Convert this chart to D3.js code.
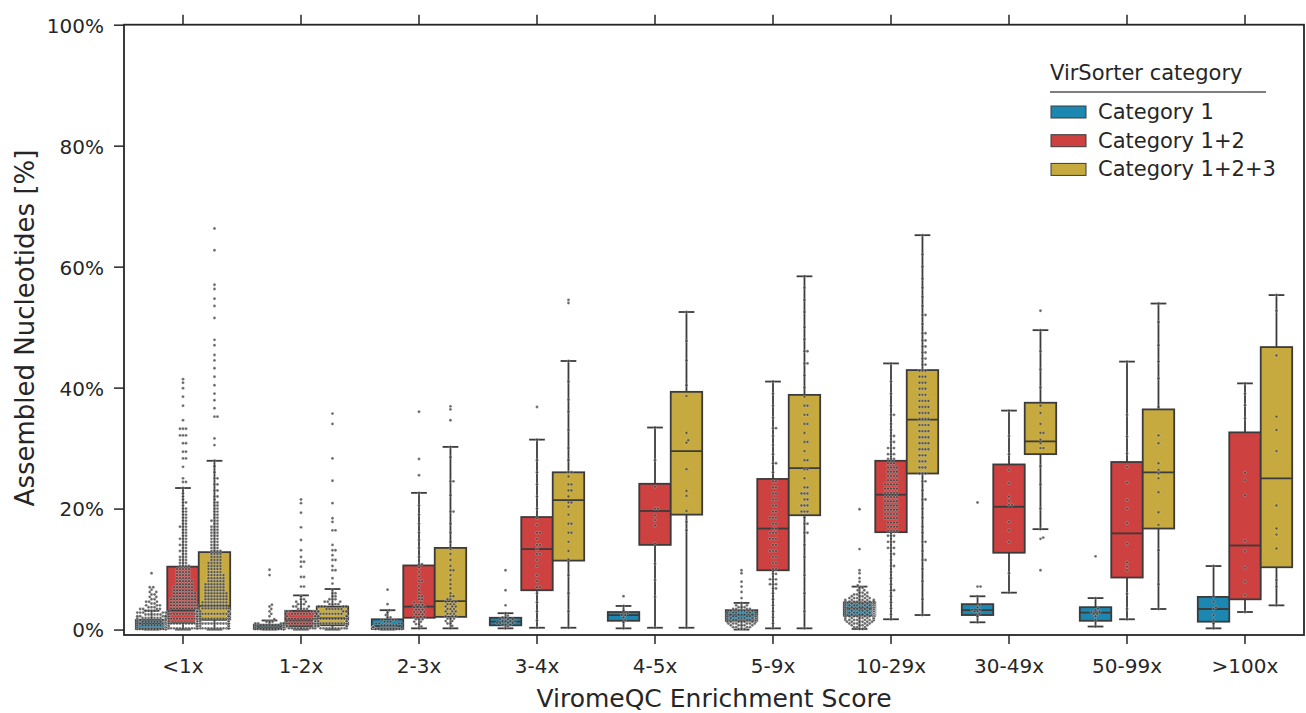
<!DOCTYPE html>
<html><head><meta charset="utf-8">
<script src="https://cdn.jsdelivr.net/npm/d3@7"></script>
<style>body{margin:0;background:#fff;} svg{display:block;font-family:"DejaVu Sans",sans-serif;}</style>
</head><body><svg id="c" width="1306" height="713"></svg>
<script>
const categories = ["<1x","1-2x","2-3x","3-4x","4-5x","5-9x","10-29x","30-49x","50-99x",">100x"];
const seriesNames = ["Category 1","Category 1+2","Category 1+2+3"];
const seriesColors = ["#1c88b2","#ce4141","#c6aa40"];
const yTicks = [0,20,40,60,80,100];

// box stats per category: [low whisker, q1, median, q3, high whisker] in %
const cat1Box = [[0,0.1,1.0,1.6,3.1],[0,0.1,0.4,0.8,1.5],[0,0.1,0.6,1.7,3.2],[0.2,0.7,1.3,1.95,2.7],[0.2,1.45,2.4,2.9,3.9],
  [0,1.45,2.4,3.2,4.4],[0.1,2.3,3.5,4.5,7.1],[1.2,2.4,3.2,4.2,5.5],[0.5,1.45,2.8,3.7,5.2],[0.2,1.3,3.4,5.4,10.5]];
const cat12Box = [[0,1.1,3.2,10.4,23.4],[0,0.5,1.6,3.1,5.65],[0.2,1.95,3.8,10.6,22.6],[0.3,6.5,13.3,18.6,31.4],[0.3,14.0,19.6,24.1,33.4],
  [0.2,9.8,16.7,24.9,41.0],[1.7,16.1,22.3,27.9,44.0],[6.1,12.7,20.3,27.3,36.2],[1.7,8.6,15.9,27.7,44.3],[2.9,5.0,13.9,32.6,40.7]];
const cat123Box = [[0,1.6,3.9,12.8,27.9],[0,0.7,1.9,3.8,6.7],[0.2,2.1,4.7,13.5,30.2],[0.3,11.4,21.4,26.0,44.4],[0.3,19.0,29.5,39.3,52.5],
  [0.2,18.9,26.7,38.8,58.4],[2.4,25.8,34.7,42.9,65.2],[16.6,29.0,31.1,37.5,49.5],[3.4,16.7,26.0,36.4,53.9],[4.0,10.3,25.0,46.7,55.3]];

// individual samples (%); a number = one sample, [value, n] = n samples at about that value
const cat1Points = [
  [[0.1,14],[0.4,14],[0.7,14],[1.0,13],[1.3,12],[1.6,11],[1.9,9],[2.2,8],[2.5,6],[2.8,5],[3.1,4],[3.4,4],[3.7,3],[4.0,3],[4.3,2],[4.6,3],[5.0,2],[5.4,2],[5.8,2],[6.2,2],6.6,[7.0,2],9.3],
  [[0.1,14],[0.4,14],[0.7,10],[1.0,5],[1.3,3],1.7,2.2,2.6,3.0,3.4,3.8,4.1,9.0,9.9],
  [[0.1,10],[0.4,8],[0.7,6],[1.0,4],[1.3,3],[1.6,3],[2.0,2],2.4,2.8,3.2,4.2,6.6],
  [0.2,0.5,[0.8,3],[1.1,4],[1.4,4],[1.7,3],[2.0,2],2.3,2.7,4.0,6.5,9.8],
  [0.2,1.2,1.6,2.0,[2.4,2],2.7,3.1,3.9,5.5],
  [[0.1,3],[0.4,4],[0.7,5],[1.0,6],[1.3,7],[1.6,8],[1.9,8],[2.2,8],[2.5,7],[2.8,6],[3.1,5],[3.4,4],[3.7,3],[4.0,2],4.4,5.2,6.2,7.1,7.9,9.3,9.8],
  [[0.1,2],[0.4,3],[0.7,4],[1.0,5],[1.3,6],[1.6,8],[1.9,10],[2.2,12],[2.5,13],[2.8,14],[3.1,14],[3.4,14],[3.7,13],[4.0,12],[4.3,10],[4.6,8],[4.9,6],[5.2,5],[5.5,4],[5.8,3],[6.1,3],[6.5,2],[6.9,2],7.3,7.9,8.5,9.3,9.8,13.3,19.9],
  [1.2,2.2,2.6,[3.0,2],[3.3,2],3.7,4.1,5.5,[7.1,2],21.0],
  [0.5,1.6,2.2,[2.6,2],[2.9,2],3.2,3.5,5.2,12.1],
  [0.2,1.0,1.6,2.4,3.4,3.7,4.6,5.5,10.5]
];
const cat12Points = [
  [[0.2,16],[0.6,16],[1.0,15],[1.4,14],[1.8,13],[2.2,12],[2.6,12],[3.0,11],[3.5,10],[4.0,10],[4.5,9],[5.0,9],[5.5,8],[6.0,8],[6.5,7],[7.0,7],[7.5,6],[8.0,6],[8.5,5],[9.0,5],[9.5,5],[10.0,5],[10.5,4],[11.0,3],[11.5,3],[12,3],[12.5,2],[13,3],[13.5,2],[14,3],[14.5,2],[15,3],[15.5,2],[16,2],[16.5,2],[17,3],[17.5,2],[18,2],[18.5,2],[19,2],[19.5,2],[20,2],[20.5,1],[21,2],[21.5,1],[22,1],[22.5,1],23.4,[24.4,2],25.0,26.9,[28.3,2],[29.4,2],[30.8,2],[32.1,3],[33.2,3],34.6,37.0,38.5,39.9,40.8,41.4],
  [[0.2,10],[0.6,12],[1.0,12],[1.4,11],[1.8,10],[2.2,9],[2.6,7],[3.0,6],[3.4,4],[3.8,3],[4.2,3],[4.6,2],[5.0,2],5.5,[7.1,2],[8.7,2],10.4,[11.2,2],12.0,13.1,14.8,16.9,19.3,20.9,21.5],
  [0.2,0.5,[0.9,2],[1.3,2],[1.7,3],[2.1,3],[2.5,3],[2.9,3],[3.3,3],[3.7,3],[4.1,3],[4.5,2],[5.0,2],[5.5,2],6.0,6.5,7.2,[8.0,2],8.8,9.5,10.3,[10.8,2],12.0,13.5,14.8,16.0,17.5,19.0,20.5,22.6,25.5,28.2,36.0],
  [0.3,1.5,3.0,4.5,6.0,[7.0,2],8.0,9.0,10.5,11.5,[12.5,2],13.3,[14.0,2],15.0,[16.0,2],17.3,18.4,20.0,22.0,24.0,26.0,28.0,31.4,36.8],
  [0.3,5.4,8.2,10.9,14.2,17.2,18.1,18.9,[20.0,2],23.6,28.0,33.4],
  [0.2,1.0,2.0,3.0,4.0,5.0,6.0,[6.8,2],[7.5,3],[8.3,3],[9.2,2],[10,2],[11,2],[12,2],[13,3],[14,2],[15,3],[16,3],[16.7,2],[17.5,2],[18.5,3],[19.5,2],[20.5,2],[21.5,2],[22.5,2],[23.5,2],[24.5,2],26.0,[27.5,2],29.0,30.5,32.0,[33.3,2],35.0,37.0,39.0,41.0],
  [1.7,2.5,3.5,4.5,5.5,[6.5,2],7.5,8.5,9.5,[10.5,2],11.5,[12.5,2],[13.5,3],[14.5,3],[15.5,3],[16.3,4],[17,4],[17.7,4],[18.4,5],[19.1,5],[19.8,5],[20.5,5],[21.2,5],[21.9,5],[22.6,5],[23.3,5],[24,5],[24.7,4],[25.4,4],[26.1,4],[26.8,4],[27.5,3],[28.2,3],[29,3],[30,3],[31,2],[32,2],33.0,34.0,[35.5,2],37.0,39.0,41.0,44.0],
  [6.1,9.3,14.5,16.4,17.8,[20.6,2],21.3,22.0,24.2,26.4,29.0,32.0,36.2],
  [1.7,3.4,5.9,9.8,10.4,11.1,14.2,17.6,20.0,21.4,24.3,26.9,29.1,31.9,35.5,44.3],
  [2.9,5.7,7.9,10.2,13.0,14.7,22.2,24.7,25.9,34.9,37.1,39.0,40.7]
];
const cat123Points = [
  [[0.2,16],[0.6,16],[1.0,15],[1.4,14],[1.8,13],[2.2,12],[2.6,11],[3.0,11],[3.5,10],[4.0,9],[4.5,9],[5.0,8],[5.5,8],[6.0,8],[6.5,7],[7.0,7],[7.5,7],[8.0,6],[8.5,6],[9.0,6],[9.5,5],[10,5],[10.5,5],[11,5],[11.5,4],[12,4],[12.5,4],[13,4],[13.5,3],[14,3],[14.5,3],[15,3],[15.5,3],[16,3],[16.5,3],[17,3],[17.5,2],[18,3],[18.5,2],[19,2],[19.5,2],[20,2],[20.5,2],[21,2],[21.5,1],[22,2],[23,2],[24,2],[25,2],26.0,27.0,27.9,30.5,31.6,[35.2,2],36.6,37.9,39.0,40.4,41.8,43.2,44.5,45.4,47.0,47.9,51.5,53.5,54.7,56.3,57.0,62.7,66.3],
  [[0.2,10],[0.6,12],[1.0,12],[1.4,11],[1.8,10],[2.2,9],[2.6,8],[3.0,7],[3.4,6],[3.8,5],[4.2,4],[4.6,3],[5.0,3],[5.5,2],[6.0,2],6.6,7.6,8.5,[9.8,2],10.5,[11.5,2],12.3,[13.1,2],14.0,[16.4,2],17.8,18.4,20.9,24.6,28.3,34.0,35.7],
  [0.2,0.6,[1.0,2],[1.4,2],[1.8,3],[2.2,3],[2.6,3],[3.0,3],[3.4,3],[3.8,3],[4.2,3],[4.6,3],[5.0,2],[5.5,2],6.0,6.8,7.5,8.2,9.0,[9.8,2],10.5,11.5,12.5,13.3,14.5,16.0,17.5,[19.5,2],22.2,[24.5,2],28.5,30.2,34.6,36.4,36.9],
  [0.3,3.0,6.0,9.0,11.6,13.0,14.5,[16,2],[17.5,2],19.0,20.3,[21,2],22.0,[23,2],[24,2],25.3,[26,2],28.0,30.0,33.0,36.0,38.0,41.0,44.4,54.0,54.5],
  [0.3,16.4,17.8,19.6,22.1,22.9,26.5,30.9,31.3,32.5,38.6,40.4,44.5,47.7,52.5],
  [0.2,3.0,6.0,9.0,12.0,14.0,[16,2],[17.5,2],18.5,[19.5,3],[20.5,3],[21.5,2],[22.5,3],[23.5,2],25.0,[26.5,2],[28,2],29.5,[31,2],32.5,[34,2],[35.5,2],[37,2],38.5,40.0,42.0,[44,2],[46,2],48.0,50.0,52.5,54.5,56.5,58.4],
  [2.4,5.0,8.0,10.0,[11.5,2],13.0,[14.5,2],16.0,17.0,18.5,20.0,[21.5,2],23.0,[24.5,2],[25.8,3],[26.8,3],[27.8,3],[28.8,3],[29.8,4],[30.8,4],[31.8,4],[32.8,4],[33.8,4],[34.8,4],[35.8,4],[36.8,4],[37.8,4],[38.8,3],[39.8,3],[40.8,3],[41.8,3],[42.8,3],[43.8,2],[44.8,2],[45.8,2],[46.8,2],[47.8,2],[49,2],50.5,[52,2],53.5,55.0,56.5,58.0,60.0,62.0,65.2],
  [9.8,15.0,15.2,16.6,20.0,24.0,27.0,[30,2],30.8,31.4,[32.5,2],34.0,35.8,37.0,40.0,43.0,46.0,49.5,52.7],
  [3.4,7.5,13.1,17.3,19.4,22.7,25.0,25.8,26.4,27.5,30.8,32.1,36.8,41.5,44.3,47.0,50.8,53.9],
  [4.0,7.1,8.2,13.4,15.7,16.7,20.5,29.5,33.0,35.2,45.3,52.7,55.3]
];

const boxes = [cat1Box, cat12Box, cat123Box];
const points = [cat1Points, cat12Points, cat123Points];

const svg = d3.select("#c");
const x = d3.scaleBand().domain(categories).range([124, 1304]).padding(0);
const y = d3.scaleLinear().domain([-0.9, 100]).range([635, 24.7]);
const bw = x.bandwidth();
const boxW = bw * 0.8 / 3;
const lineCol = "#3b3b3b";

function expand(list) {
  const out = [];
  list.forEach(e => { if (Array.isArray(e)) { for (let i = 0; i < e[1]; i++) out.push(e[0]); } else out.push(e); });
  return out;
}

function swarm(vals, cx, half, d) {
  const sorted = vals.slice().sort((a, b) => a - b);
  const placed = [];
  for (const v of sorted) {
    const py = y(v);
    const near = placed.filter(p => Math.abs(p.y - py) < d);
    const cands = [0];
    near.forEach(p => { const dx = Math.sqrt(d * d - (p.y - py) ** 2); cands.push(p.x + dx, p.x - dx); });
    cands.sort((a, b) => Math.abs(a) - Math.abs(b));
    let best = null;
    for (const c of cands) {
      if (near.every(p => (p.x - c) ** 2 + (p.y - py) ** 2 >= d * d - 1e-6)) { best = c; break; }
    }
    if (best === null) best = 0;
    best = Math.max(-half, Math.min(half, best));
    placed.push({x: best, y: py});
  }
  return placed.map(p => ({x: cx + p.x, y: p.y}));
}

const plot = svg.append("g");
// boxes
categories.forEach((cat, i) => {
  const xc = x(cat) + bw / 2;
  [0, 1, 2].forEach(s => {
    const [lo, q1, med, q3, hi] = boxes[s][i];
    const cx = xc + (s - 1) * boxW;
    const g = plot.append("g");
    const capW = boxW * 0.5;
    g.append("line").attr("x1", cx).attr("x2", cx).attr("y1", y(q3)).attr("y2", y(hi)).attr("stroke", lineCol).attr("stroke-width", 1.8);
    g.append("line").attr("x1", cx).attr("x2", cx).attr("y1", y(q1)).attr("y2", y(lo)).attr("stroke", lineCol).attr("stroke-width", 1.8);
    g.append("line").attr("x1", cx - capW / 2).attr("x2", cx + capW / 2).attr("y1", y(hi)).attr("y2", y(hi)).attr("stroke", lineCol).attr("stroke-width", 1.8);
    g.append("line").attr("x1", cx - capW / 2).attr("x2", cx + capW / 2).attr("y1", y(lo)).attr("y2", y(lo)).attr("stroke", lineCol).attr("stroke-width", 1.8);
    g.append("rect").attr("x", cx - boxW / 2).attr("y", y(q3)).attr("width", boxW).attr("height", y(q1) - y(q3))
      .attr("fill", seriesColors[s]).attr("stroke", lineCol).attr("stroke-width", 1.8);
    g.append("line").attr("x1", cx - boxW / 2).attr("x2", cx + boxW / 2).attr("y1", y(med)).attr("y2", y(med)).attr("stroke", lineCol).attr("stroke-width", 1.8);
  });
});
// swarm points
categories.forEach((cat, i) => {
  const xc = x(cat) + bw / 2;
  [0, 1, 2].forEach(s => {
    const cx = xc + (s - 1) * boxW;
    const pts = swarm(expand(points[s][i]), cx, boxW / 2 - 1.5, 3.0);
    plot.append("g").selectAll("circle").data(pts).join("circle")
      .attr("cx", d => d.x).attr("cy", d => d.y).attr("r", 1.45)
      .attr("fill", "#404040").attr("fill-opacity", 0.8)
      .attr("stroke", "#fff").attr("stroke-width", 0.35).attr("stroke-opacity", 0.7);
  });
});

// axes
const fontTick = "20px";
const gl = svg.append("g").attr("transform", "translate(124,0)")
  .call(d3.axisLeft(y).tickValues(yTicks).tickFormat(d => d + "%").tickSize(10).tickPadding(10));
const gb = svg.append("g").attr("transform", "translate(0,635)")
  .call(d3.axisBottom(x).tickSize(9).tickPadding(15));
const gt = svg.append("g").attr("transform", "translate(0,24.7)")
  .call(d3.axisTop(x).tickSize(10).tickFormat(""));
[gl, gb, gt].forEach(g => {
  g.select(".domain").remove();
  g.selectAll(".tick line").attr("stroke", "#262626").attr("stroke-width", 1.5);
  g.selectAll(".tick text").attr("fill", "#262626").style("font-size", fontTick).style("font-family", "'DejaVu Sans', sans-serif");
});
gl.selectAll(".tick text").attr("dy", "0.37em");
svg.append("rect").attr("x", 124).attr("y", 24.7).attr("width", 1180).attr("height", 635 - 24.7)
  .attr("fill", "none").attr("stroke", "#262626").attr("stroke-width", 1.8);

// axis labels
svg.append("text").attr("x", 714).attr("y", 707).attr("text-anchor", "middle")
  .style("font-size", "25px").attr("fill", "#262626").text("ViromeQC Enrichment Score");
svg.append("text").attr("transform", "translate(34,328) rotate(-90)").attr("text-anchor", "middle")
  .style("font-size", "26px").attr("fill", "#262626").text("Assembled Nucleotides [%]");

// legend
const lg = svg.append("g");
lg.append("text").attr("x", 1050).attr("y", 80).style("font-size", "21px").attr("fill", "#262626").text("VirSorter category");
lg.append("line").attr("x1", 1050).attr("x2", 1266).attr("y1", 92).attr("y2", 92).attr("stroke", "#555").attr("stroke-width", 1.5);
seriesNames.forEach((n, k) => {
  const cy = 112 + k * 28.7;
  lg.append("rect").attr("x", 1051).attr("y", cy - 6).attr("width", 35).attr("height", 12)
    .attr("fill", seriesColors[k]).attr("stroke", lineCol).attr("stroke-width", 1);
  lg.append("text").attr("x", 1098).attr("y", cy + 7).style("font-size", "21px").attr("fill", "#262626").text(n);
});
</script></body></html>
